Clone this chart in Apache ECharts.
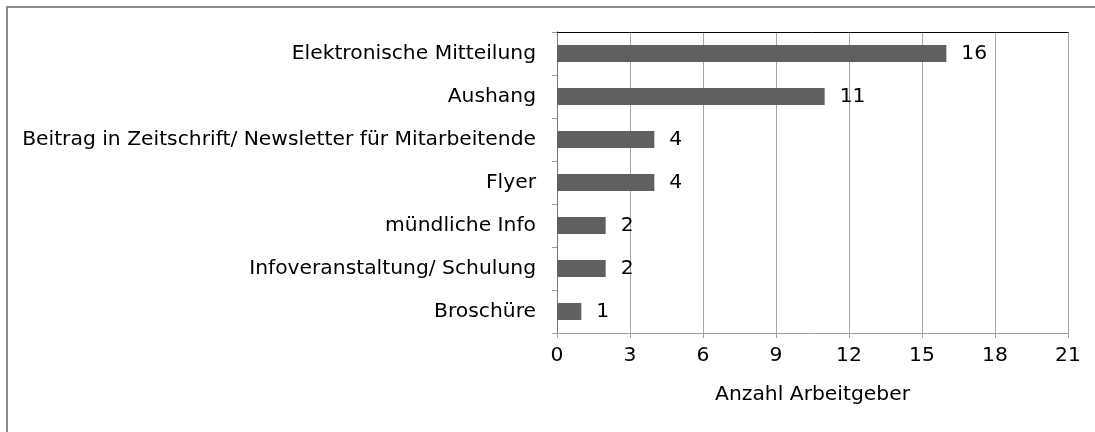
<!DOCTYPE html>
<html>
<head>
<meta charset="utf-8">
<script src="https://cdn.jsdelivr.net/npm/echarts@6/dist/echarts.min.js"></script>
<style>
  html, body { margin: 0; padding: 0; background: #fff; }
  #chart { width: 1095px; height: 432px; }
</style>
</head>
<body>
<div id="chart"></div>
<script>
// Kategorien von unten nach oben (ECharts zeichnet die Kategorieachse von unten)
var categories = [
  'Broschüre',
  'Infoveranstaltung/ Schulung',
  'mündliche Info',
  'Flyer',
  'Beitrag in Zeitschrift/ Newsletter für Mitarbeitende',
  'Aushang',
  'Elektronische Mitteilung'
]
var values = [1, 2, 2, 4, 4, 11, 16]
var xTicks = [0, 3, 6, 9, 12, 15, 18, 21]
var axisTitle = 'Anzahl Arbeitgeber'

var font = 'DejaVu Sans'
var fs = 20.3
var chart = echarts.init(document.getElementById('chart'))

var option = {
  animation: false,
  backgroundColor: '#fff',
  textStyle: { fontFamily: font },
  graphic: [
    {
      type: 'rect',
      shape: { x: 7, y: 7, width: 1100, height: 440 },
      style: { fill: 'none', stroke: '#8a8a8a', lineWidth: 2 },
      z: -10
    }
  ],
  grid: { left: 557, right: 27, top: 32, bottom: 99 },
  xAxis: [
    {
      type: 'value',
      position: 'bottom',
      min: xTicks[0],
      max: xTicks[xTicks.length - 1],
      interval: 3,
      axisLine: { show: true, lineStyle: { color: '#a0a0a0', width: 1 } },
      axisTick: { show: true, length: 5, lineStyle: { color: '#a0a0a0' } },
      axisLabel: { color: '#000', fontSize: fs, fontFamily: font, margin: 13 },
      splitLine: { show: true, lineStyle: { color: '#a6a6a6', width: 1 } },
      name: axisTitle,
      nameLocation: 'middle',
      nameGap: 52,
      nameTextStyle: { color: '#000', fontSize: fs, fontFamily: font }
    },
    {
      // obere Rahmenlinie
      type: 'value',
      position: 'top',
      min: xTicks[0],
      max: xTicks[xTicks.length - 1],
      interval: 3,
      axisLine: { show: true, lineStyle: { color: '#000', width: 1 } },
      axisTick: { show: false },
      axisLabel: { show: false },
      splitLine: { show: false }
    }
  ],
  yAxis: [
    {
      type: 'category',
      data: categories,
      axisLine: { show: true, lineStyle: { color: '#a0a0a0', width: 1 } },
      axisTick: { show: true, length: 5, alignWithLabel: false, lineStyle: { color: '#a0a0a0' } },
      axisLabel: { color: '#000', fontSize: fs, fontFamily: font, margin: 21, interval: 0 }
    },
    {
      // rechte Rahmenlinie
      type: 'category',
      position: 'right',
      data: categories,
      axisLine: { show: true, lineStyle: { color: '#7a7a7a', width: 1 } },
      axisTick: { show: false },
      axisLabel: { show: false }
    }
  ],
  series: [
    {
      type: 'bar',
      data: values,
      barWidth: 17,
      itemStyle: { color: '#606060' },
      label: {
        show: true,
        position: 'right',
        distance: 15,
        color: '#000',
        fontSize: fs,
        fontFamily: font
      }
    }
  ]
}

chart.setOption(option)
</script>
</body>
</html>
